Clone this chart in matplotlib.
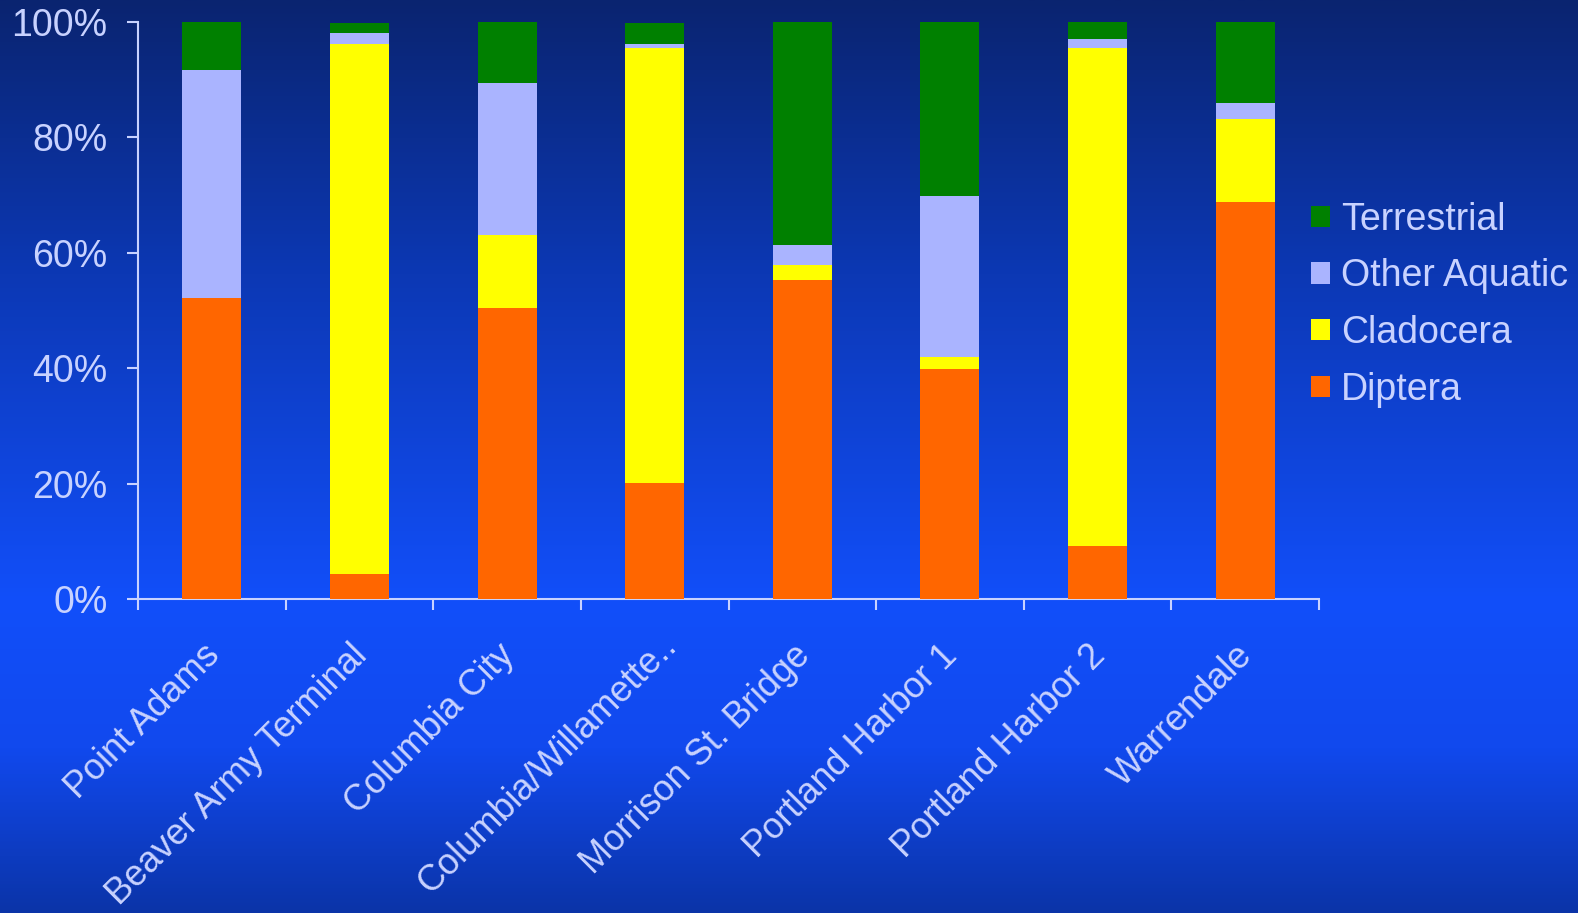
import numpy as np
import matplotlib
matplotlib.use("Agg")
import matplotlib.pyplot as plt
from matplotlib.colors import LinearSegmentedColormap
from matplotlib.transforms import ScaledTranslation

plt.rcParams['font.family'] = ['Liberation Sans', 'DejaVu Sans']

# ---------------------------------------
# data (percent of diet)
sites = ['Point Adams', 'Beaver Army Terminal', 'Columbia City',
         'Columbia/Willamette..', 'Morrison St. Bridge', 'Portland Harbor 1',
         'Portland Harbor 2', 'Warrendale']
diptera = [52.1, 4.4, 50.4, 20.1, 55.3, 39.8, 9.1, 68.8]
cladocera = [0.0, 91.8, 12.6, 75.4, 2.5, 2.1, 86.4, 14.4]
other_aquatic = [39.5, 1.9, 26.4, 0.7, 3.6, 27.9, 1.6, 2.8]
terrestrial = [8.4, 1.7, 10.6, 3.6, 38.6, 30.2, 2.9, 14.0]

series = ['Diptera', 'Cladocera', 'Other Aquatic', 'Terrestrial']
colors = ['#ff6600', '#ffff00', '#aab4ff', '#008000']
txt = '#c8d2ff'

# ---------------------------------------
fig = plt.figure(figsize=(15.78, 9.13), dpi=100)

# gradient background
bg = fig.add_axes([0, 0, 1, 1], zorder=-10)
cmap = LinearSegmentedColormap.from_list('bg', [
    (0.0, '#0a2470'), (0.3, '#0c38b4'), (0.66, '#124ffa'),
    (0.82, '#1149ee'), (1.0, '#0b34a8')])
grad = np.linspace(0, 1, 512).reshape(-1, 1)
bg.imshow(grad, aspect='auto', cmap=cmap, extent=[0, 1, 1, 0])
bg.axis('off')

ax = fig.add_axes([138/1578, 1-599/913, (1319-138)/1578, (599-22)/913])
ax.set_facecolor('none')

x = np.arange(len(sites))
data = [diptera, cladocera, other_aquatic, terrestrial]
bottom = np.zeros(len(sites))
handles = []
for vals, col, name in zip(data, colors, series):
    b = ax.bar(x, vals, width=0.40, bottom=bottom, color=col, label=name,
               zorder=3)
    bottom += np.array(vals)
    handles.append(b)

ax.set_xlim(-0.5, len(sites)-0.5)
ax.set_ylim(0, 100)
ax.set_yticks(np.arange(0, 101, 20))
ax.set_yticklabels(['%d%%' % v for v in range(0, 101, 20)])
ax.set_xticks(x)
ax.set_xticklabels(sites, rotation=45, ha='right', rotation_mode='anchor')
ax.set_xticks(np.arange(-0.5, len(sites), 1), minor=True)
ax.tick_params(axis='x', which='major', length=0, pad=28, labelsize=26,
               labelcolor=txt)
ax.tick_params(axis='x', which='minor', length=8, width=1.5, color=txt,
               direction='out')
ax.tick_params(axis='y', length=8, width=1.5, color=txt, labelsize=27,
               labelcolor=txt, pad=14)
for i, lab in enumerate(ax.get_xticklabels()):
    dx, dy = -10, 0
    if i == 3:  # truncated label sits a little further right
        dx, dy = 4, 10
    lab.set_transform(lab.get_transform() +
                      ScaledTranslation(dx/100, dy/100, fig.dpi_scale_trans))

for s in ['top', 'right']:
    ax.spines[s].set_visible(False)
for s in ['left', 'bottom']:
    ax.spines[s].set_color(txt)
    ax.spines[s].set_linewidth(1.5)

leg = fig.legend(handles[::-1], series[::-1], loc='upper left',
                 bbox_to_anchor=(1292/1578, 1-183/913), frameon=False,
                 fontsize=27, handlelength=0.5, handleheight=0.5,
                 handletextpad=0.3, labelspacing=0.55, borderpad=0)
for t in leg.get_texts():
    t.set_color(txt)

plt.savefig('out.png', dpi=100)
